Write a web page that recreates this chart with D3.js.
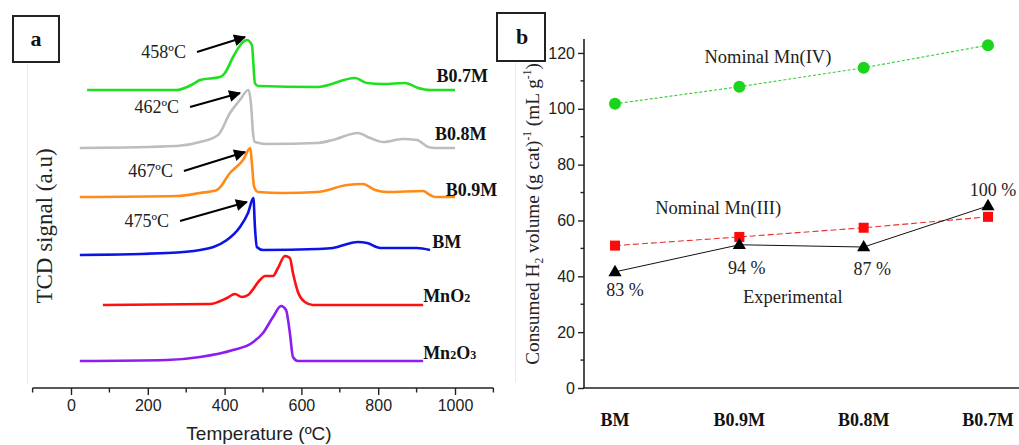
<!DOCTYPE html>
<html><head><meta charset="utf-8">
<script src="https://cdn.jsdelivr.net/npm/d3@7"></script>
<style>body{margin:0;background:#fff}svg{display:block}</style>
</head><body>
<script>
// ---------- Panel a data: [temperature ºC, TCD signal (a.u., offset)] ----------
const seriesNames = ["B0.7M","B0.8M","B0.9M","BM","MnO2","Mn2O3"];
const seriesColors = ["#1ee01e","#bdbdbd","#ff8a14","#0a14e6","#ff1010","#8c1ef0"];
const tcdB07M = [[42,298],[276,298],[318,304],[336,308],[388,311],[401,315],[422,331],[448,346],[458,348],[471,343],[479,305],[487,302],[641,301],[740,310],[771,305],[813,304],[870,305],[904,300],[935,298],[1000,298]];
const tcdB08M = [[23,240],[276,242],[336,246],[383,253],[414,275],[440,288],[462,298],[469,283],[474,255],[479,246],[510,244],[641,245],[682,248],[747,255],[779,250],[813,246],[865,249],[901,248],[930,241],[948,240],[1000,240]];
const tcdB09M = [[23,191],[276,192],[336,195],[380,198],[414,215],[448,228],[467,240],[471,225],[477,201],[487,196],[552,195],[641,196],[719,203],[760,204],[792,198],[823,196],[917,197],[935,193],[948,191],[1000,191]];
const tcdBM   = [[23,133],[250,135],[336,138],[406,148],[440,161],[461,175],[475,190],[479,161],[484,141],[500,138],[641,139],[682,140],[747,146],[771,145],[805,140],[901,140],[935,138]];
const tcdMnO2 = [[83,83],[362,84],[406,90],[427,94],[445,91],[461,93],[492,108],[505,112],[526,112],[539,120],[557,132],[570,130],[578,115],[591,96],[609,86],[630,83],[917,83]];
const tcdMn2O3= [[23,27],[250,28],[336,31],[422,38],[471,45],[500,55],[526,71],[547,82],[560,78],[570,55],[578,31],[591,27],[917,27]];
const tcdSeries = [tcdB07M,tcdB08M,tcdB09M,tcdBM,tcdMnO2,tcdMn2O3];
const seriesLabelPos = [[952,304],[948,246],[976,190],[941,138],[917,84],[917,27]];
// peak annotations: text, tail [T,s], tip [T,s]
const peakLabels = ["458ºC","462ºC","467ºC","475ºC"];
const arrowTails = [[328,336],[310,281],[294,217],[284,167]];
const arrowTips  = [[453,351],[440,295],[453,236],[458,186]];
const tempTicks = [0,200,400,600,800,1000];

// ---------- Panel b data ----------
const categories = ["BM","B0.9M","B0.8M","B0.7M"];
const nominalMnIV  = [101.8,107.9,114.7,122.8];
const nominalMnIII = [51.0,54.1,57.4,61.3];
const experimental = [41.6,51.3,50.5,65.2];
const percentLabels = ["83 %","94 %","87 %","100 %"];
const volTicks = [0,20,40,60,80,100,120];

const W=1019,H=445;
const svg=d3.select("body").append("svg").attr("width",W).attr("height",H);
const serif="'Liberation Serif','Times New Roman',serif";
const sans="'Liberation Sans',Arial,sans-serif";

// faint sub-figure edges
svg.append("line").attr("x1",27.5).attr("x2",27.5).attr("y1",64).attr("y2",384).attr("stroke","#ececec");
svg.append("line").attr("x1",515.5).attr("x2",515.5).attr("y1",62).attr("y2",382).attr("stroke","#ececec");

// ===== Panel a =====
const xA=d3.scaleLinear().domain([-100,1100]).range([32.6,493.4]);
const yA=d3.scaleLinear().domain([0,358]).range([388,30]);
const gA=svg.append("g");
const axA=d3.axisBottom(xA).tickValues(tempTicks).tickSize(7).tickPadding(5).tickFormat(d3.format("d"));
const axAg=gA.append("g").attr("transform","translate(0,388)").call(axA);
axAg.select(".domain").attr("stroke","#222").attr("stroke-width",1.6).attr("d","M32.6,0H493.4");
axAg.selectAll(".tick line").attr("stroke","#222").attr("stroke-width",1.4);
axAg.selectAll("text").attr("font-family",sans).attr("font-size",16).attr("fill","#222");
// minor ticks
gA.append("g").selectAll("line").data([-100,100,300,500,700,900,1100]).join("line")
  .attr("x1",d=>xA(d)).attr("x2",d=>xA(d)).attr("y1",388).attr("y2",392.5).attr("stroke","#222").attr("stroke-width",1.4);
gA.append("text").attr("x",xA(500)-4).attr("y",440).attr("text-anchor","middle")
  .attr("font-family",sans).attr("font-size",19).attr("fill","#222").text("Temperature (ºC)");
gA.append("text").attr("transform","translate(52,226) rotate(-90)").attr("text-anchor","middle")
  .attr("font-family",serif).attr("font-size",23).attr("fill","#222").text("TCD signal (a.u)");

const lineA=d3.line().x(d=>xA(d[0])).y(d=>yA(d[1])).curve(d3.curveMonotoneX);
tcdSeries.forEach((s,i)=>{
  gA.append("path").attr("d",lineA(s)).attr("fill","none").attr("stroke",seriesColors[i])
    .attr("stroke-width",2.6).attr("stroke-linejoin","round");
});
// series labels
seriesNames.forEach((n,i)=>{
  const t=gA.append("text").attr("x",xA(seriesLabelPos[i][0])).attr("y",yA(seriesLabelPos[i][1])-2)
    .attr("font-family",serif).attr("font-weight","bold").attr("font-size",18).attr("fill","#111");
  const m=n.match(/^(Mn)(\d?)(O)(\d)$/);
  if(m){
    t.append("tspan").text("Mn");
    if(m[2]) t.append("tspan").attr("font-size",12).text(m[2]);
    t.append("tspan").text("O");
    t.append("tspan").attr("font-size",12).text(m[4]);
  } else t.text(n);
});
// arrows
const defs=svg.append("defs");
defs.append("marker").attr("id","ah").attr("viewBox","0 0 10 10").attr("refX",9).attr("refY",5)
  .attr("markerWidth",7).attr("markerHeight",6).attr("markerUnits","strokeWidth").attr("orient","auto")
  .append("path").attr("d","M0,0L10,5L0,10Z").attr("fill","#000");
peakLabels.forEach((lab,i)=>{
  const [t0,s0]=arrowTails[i],[t1,s1]=arrowTips[i];
  gA.append("line").attr("x1",xA(t0)).attr("y1",yA(s0)).attr("x2",xA(t1)).attr("y2",yA(s1))
    .attr("stroke","#000").attr("stroke-width",2).attr("marker-end","url(#ah)");
  gA.append("text").attr("x",xA(t0)-11).attr("y",yA(s0)+6).attr("text-anchor","end")
    .attr("font-family",serif).attr("font-size",18).attr("fill","#222").text(lab);
});
// box a
svg.append("rect").attr("x",13).attr("y",16).attr("width",46).attr("height",46).attr("fill","none").attr("stroke","#222").attr("stroke-width",2);
svg.append("text").attr("x",36).attr("y",46).attr("text-anchor","middle").attr("font-family",serif)
  .attr("font-weight","bold").attr("font-size",22).attr("fill","#111").text("a");

// ===== Panel b =====
const xB=d3.scalePoint().domain(categories).range([615,988]);
const yB=d3.scaleLinear().domain([0,125]).range([388,39]);
const idx=d3.scaleLinear().domain([0,3]).range([615,988]);
const gB=svg.append("g");
const axB=d3.axisLeft(yB).tickValues(volTicks).tickSize(6).tickPadding(3);
const axBg=gB.append("g").attr("transform","translate(584,0)").call(axB);
axBg.select(".domain").attr("stroke","#222").attr("stroke-width",1.6).attr("d","M0,39V388");
axBg.selectAll(".tick line").attr("stroke","#222").attr("stroke-width",1.4);
axBg.selectAll("text").attr("font-family",sans).attr("font-size",16).attr("fill","#222");
gB.append("g").selectAll("line").data([10,30,50,70,90,110]).join("line")
  .attr("x1",584).attr("x2",580.5).attr("y1",d=>yB(d)).attr("y2",d=>yB(d)).attr("stroke","#222").attr("stroke-width",1.4);
gB.append("line").attr("x1",583).attr("x2",1019).attr("y1",388).attr("y2",388).attr("stroke","#222").attr("stroke-width",1.6);
categories.forEach(c=>{
  gB.append("text").attr("x",xB(c)).attr("y",426).attr("text-anchor","middle").attr("font-family",serif)
    .attr("font-weight","bold").attr("font-size",18).attr("fill","#111").text(c);
});
// y title
const yt=gB.append("text").attr("transform","translate(539,214) rotate(-90)").attr("text-anchor","middle")
  .attr("font-family",serif).attr("font-size",19.3).attr("fill","#222");
yt.append("tspan").text("Consumed H");
yt.append("tspan").attr("font-size",11.5).attr("dy",4).text("2");
yt.append("tspan").attr("dy",-4).text(" volume (g cat)");
yt.append("tspan").attr("font-size",11.5).attr("dy",-8).text("-1");
yt.append("tspan").attr("dy",8).text(" (mL g");
yt.append("tspan").attr("font-size",11.5).attr("dy",-8).text("-1");
yt.append("tspan").attr("dy",8).text(")");

const lineB=d3.line().x((d,i)=>xB(categories[i])).y(d=>yB(d));
gB.append("path").attr("d",lineB(nominalMnIV)).attr("fill","none").attr("stroke","#33cc33").attr("stroke-width",1.1).attr("stroke-dasharray","3,2");
gB.append("path").attr("d",lineB(nominalMnIII)).attr("fill","none").attr("stroke","#e83030").attr("stroke-width",1.1).attr("stroke-dasharray","6,3");
gB.append("path").attr("d",lineB(experimental)).attr("fill","none").attr("stroke","#111").attr("stroke-width",1);
gB.selectAll(".c").data(nominalMnIV).join("circle").attr("cx",(d,i)=>xB(categories[i])).attr("cy",d=>yB(d)).attr("r",6).attr("fill","#1bd41b");
gB.selectAll(".s").data(nominalMnIII).join("rect").attr("x",(d,i)=>xB(categories[i])-5).attr("y",d=>yB(d)-5).attr("width",10).attr("height",10).attr("fill","#ff0a0a");
const tri=d3.symbol().type(d3.symbolTriangle).size(75);
gB.selectAll(".t").data(experimental).join("path").attr("d",tri).attr("transform",(d,i)=>`translate(${xB(categories[i])},${yB(d)+0.5})`).attr("fill","#000");

// annotations [index position, value, text]
const bLabels=[[1.23,116.4,"Nominal Mn(IV)"],[0.83,62.5,"Nominal Mn(III)"],[1.43,30.5,"Experimental"]];
bLabels.forEach(([i,v,t])=>{
  gB.append("text").attr("x",idx(i)).attr("y",yB(v)).attr("text-anchor","middle").attr("font-family",serif)
    .attr("font-size",18.5).attr("fill","#222").text(t);
});
const pctPos=[[0.08,33.0],[1.06,41.0],[2.07,40.3],[3.04,68.8]];
percentLabels.forEach((t,i)=>{
  gB.append("text").attr("x",idx(pctPos[i][0])).attr("y",yB(pctPos[i][1])).attr("text-anchor","middle").attr("font-family",serif)
    .attr("font-size",18).attr("fill","#222").text(t);
});
// box b
svg.append("rect").attr("x",497).attr("y",13).attr("width",48).attr("height",48).attr("fill","none").attr("stroke","#222").attr("stroke-width",2);
svg.append("text").attr("x",522).attr("y",44).attr("text-anchor","middle").attr("font-family",serif)
  .attr("font-weight","bold").attr("font-size",22).attr("fill","#111").text("b");
</script>
</body></html>
